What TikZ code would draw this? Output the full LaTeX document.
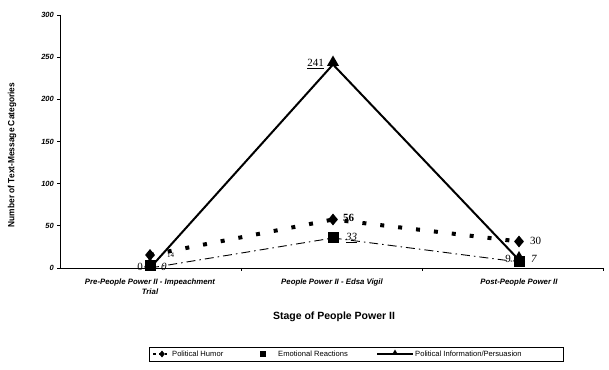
\documentclass[tikz,border=0pt]{standalone}
\usepackage{fontspec}
\setmainfont{Liberation Serif}
\newfontfamily\arialf{Liberation Sans}
\usetikzlibrary{shapes.geometric}
\begin{document}
\begin{tikzpicture}[x=1pt,y=1pt,
  axisline/.style={line width=0.9pt},
  ticklab/.style={font=\arialf\bfseries\itshape\fontsize{7.5}{8}\selectfont, anchor=east, inner sep=1pt},
  catlab/.style={font=\arialf\bfseries\itshape\fontsize{7.8}{10}\selectfont, align=center, inner sep=0pt},
  datalab/.style={font=\fontsize{11}{12}\selectfont, inner sep=0pt},
  legtext/.style={font=\arialf\fontsize{7.6}{8}\selectfont, anchor=west, inner sep=0pt},
  dia/.style={diamond, fill=black, inner sep=0pt, minimum width=10pt, minimum height=12pt},
  sq/.style={rectangle, fill=black, inner sep=0pt, minimum size=11pt},
  tri/.style={regular polygon, regular polygon sides=3, fill=black, inner sep=0pt, minimum size=14pt},
  humor/.style={line width=4pt, dash pattern=on 4pt off 14pt},
  emo/.style={line width=0.9pt, dash pattern=on 9pt off 4pt on 1.5pt off 4pt},
  info/.style={line width=2pt}
]
\useasboundingbox (0,0) rectangle (609,369);
% axes
\coordinate (O) at (60,101);
\coordinate (Ytop) at (60,354);
\coordinate (Xend) at (604,101);
\draw[axisline] (Ytop) -- (O) -- (Xend);
\foreach \v/\y in {0/101,50/143.2,100/185.3,150/227.5,200/269.6,250/311.8,300/354}{
  \draw[line width=0.6pt] (57,\y) -- (60,\y);
  \node[ticklab] (t\v) at (55,\y) {\v};
}
\foreach \x in {241,422,603}{\draw[line width=0.6pt] (\x,101) -- (\x,98);}
% axis titles
\node[font=\arialf\bfseries\fontsize{9}{10}\selectfont, rotate=90, xscale=0.93, inner sep=0pt] (ytitle) at (12,214) {Number of Text-Message Categories};
\node[font=\arialf\bfseries\fontsize{10.5}{11}\selectfont, inner sep=0pt] (xtitle) at (334,52) {Stage of People Power II};
% category labels
\node[catlab, anchor=north] (c1) at (150,90) {Pre-People Power II - Impeachment\\Trial};
\node[catlab, anchor=north] (c2) at (332,90) {People Power II - Edsa Vigil};
\node[catlab, anchor=north] (c3) at (519,90) {Post-People Power II};
% data coordinates
\coordinate (h1) at (150,114);
\coordinate (h2) at (333,149.5);
\coordinate (h3) at (519,127.5);
\coordinate (e1) at (150,101);
\coordinate (e2) at (333,131);
\coordinate (e3) at (519,107);
\coordinate (i1) at (150,101);
\coordinate (i2) at (333,304.5);
\coordinate (i3) at (519,109);
% lines
\draw[info] (i1) -- (i2) -- (i3);
\draw[emo] (e1) -- (e2) -- (e3);
\draw[humor] (h1) -- (h2) -- (h3);
% markers
\node[tri] (ti1) at (150,105) {};
\node[tri] (ti2) at ([yshift=2pt]i2) {};
\node[tri] (ti3) at ([yshift=2pt]i3) {};
\node[sq] (se1) at (150,103) {};
\node[sq] (se2) at (e2) {};
\node[sq] (se3) at (519,107) {};
\node[dia] (dh1) at (h1) {};
\node[dia] (dh2) at (h2) {};
\node[dia] (dh3) at (h3) {};
% data labels
\node[datalab, anchor=east] (l241) at (324,305) {\underline{241}};
\node[datalab, font=\bfseries\fontsize{11}{12}\selectfont, anchor=west] (l56) at (343,151) {56};
\node[datalab, font=\itshape\fontsize{11}{12}\selectfont, anchor=west] (l33) at (346,131) {\underline{33}};
\node[datalab, anchor=west] (l30) at (530,128) {30};
\node[datalab, anchor=east] (l9) at (511,110) {9};
\node[datalab, font=\itshape\fontsize{11}{12}\selectfont, anchor=west] (l7) at (531,110) {7};
\node[datalab, anchor=east] (l0a) at (143,102) {0};
\node[datalab, font=\itshape\fontsize{11}{12}\selectfont, anchor=west] (l0b) at (161,102) {0};
\node[datalab, font=\fontsize{7}{8}\selectfont, anchor=west] (l14) at (167,114) {14};
% legend
\node[draw, line width=0.6pt, minimum width=414pt, minimum height=14pt, inner sep=0pt] (leg) at (356,15) {};
\coordinate (lh1) at (153,15);
\coordinate (lh2) at (167,15);
\draw[line width=2.5pt, dash pattern=on 3pt off 3pt] (lh1) -- (lh2);
\node[dia, minimum width=6pt, minimum height=7pt] (ldh) at (162,15) {};
\node[legtext] (lt1) at (172,15) {Political Humor};
\node[sq, minimum size=6pt] (lse) at (263,15) {};
\node[legtext] (lt2) at (278,15) {Emotional Reactions};
\coordinate (li1) at (377,15);
\coordinate (li2) at (413,15);
\draw[line width=1.4pt] (li1) -- (li2);
\node[tri, minimum size=7pt] (lti) at (395,16) {};
\node[legtext] (lt3) at (415,15) {Political Information/Persuasion};
\end{tikzpicture}
\end{document}
